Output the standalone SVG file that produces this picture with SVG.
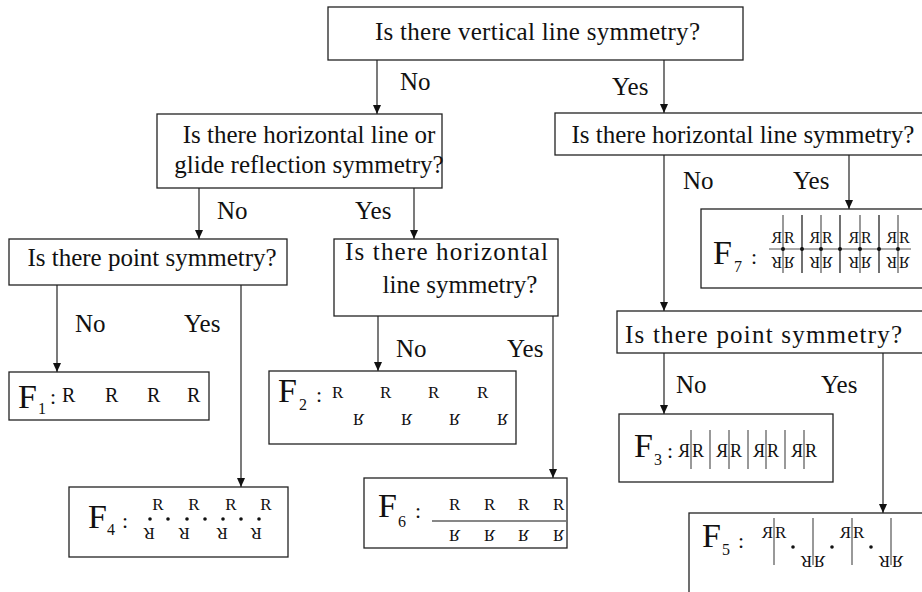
<svg xmlns="http://www.w3.org/2000/svg" width="922" height="592" viewBox="0 0 922 592">
<style>
.box{fill:#fff;stroke:#222;stroke-width:1.3}
.q{font-family:"Liberation Serif","Times New Roman",serif;font-size:25px;fill:#111}
.lbl{font-family:"Liberation Serif","Times New Roman",serif;font-size:25px;fill:#111}
.F{font-family:"Liberation Serif","Times New Roman",serif;font-size:34px;fill:#111}
.sub{font-family:"Liberation Serif","Times New Roman",serif;font-size:16px;fill:#111}
.col{font-family:"Liberation Serif","Times New Roman",serif;font-size:22px;fill:#111}
.r20{font-family:"Liberation Serif","Times New Roman",serif;font-size:20px;fill:#111}
.r18{font-family:"Liberation Serif","Times New Roman",serif;font-size:18px;fill:#111}
.r17{font-family:"Liberation Serif","Times New Roman",serif;font-size:17px;fill:#111}
.r16{font-family:"Liberation Serif","Times New Roman",serif;font-size:16px;fill:#111}
.c{stroke:#222;stroke-width:1.2;fill:none}
.m{stroke:#555;stroke-width:1.2}
.k{stroke:#111;stroke-width:1.2}
.d{fill:#111}
</style>
<defs>
<marker id="ah" markerUnits="userSpaceOnUse" markerWidth="8" markerHeight="9" refX="4" refY="9" orient="0" viewBox="0 0 8 9">
<path d="M0,0 L8,0 L4,9 z" fill="#111"/>
</marker>
</defs>

<g id="connectors">
<line class="c" x1="377" y1="60" x2="377" y2="114" marker-end="url(#ah)"/>
<line class="c" x1="664" y1="60" x2="664" y2="113" marker-end="url(#ah)"/>
<line class="c" x1="199" y1="188" x2="199" y2="239" marker-end="url(#ah)"/>
<line class="c" x1="414" y1="188" x2="414" y2="239" marker-end="url(#ah)"/>
<line class="c" x1="57" y1="285" x2="57" y2="372" marker-end="url(#ah)"/>
<line class="c" x1="241" y1="285" x2="241" y2="487" marker-end="url(#ah)"/>
<line class="c" x1="378" y1="316" x2="378" y2="371" marker-end="url(#ah)"/>
<line class="c" x1="553" y1="316" x2="553" y2="478" marker-end="url(#ah)"/>
<line class="c" x1="664" y1="155" x2="664" y2="311" marker-end="url(#ah)"/>
<line class="c" x1="849" y1="155" x2="849" y2="209" marker-end="url(#ah)"/>
<line class="c" x1="664" y1="353" x2="664" y2="414" marker-end="url(#ah)"/>
<line class="c" x1="883" y1="353" x2="883" y2="513" marker-end="url(#ah)"/>
<text class="lbl" x="400" y="90">No</text>
<text class="lbl" x="612" y="95">Yes</text>
<text class="lbl" x="217" y="219">No</text>
<text class="lbl" x="355" y="219">Yes</text>
<text class="lbl" x="75" y="332">No</text>
<text class="lbl" x="184" y="332">Yes</text>
<text class="lbl" x="396" y="357">No</text>
<text class="lbl" x="507" y="357">Yes</text>
<text class="lbl" x="683" y="189">No</text>
<text class="lbl" x="793" y="189">Yes</text>
<text class="lbl" x="676" y="393">No</text>
<text class="lbl" x="821" y="393">Yes</text>
</g>

<g id="q1">
<rect class="box" x="328" y="7" width="415" height="53"/>
<text class="q" x="375" y="40" textLength="325" lengthAdjust="spacing">Is there vertical line symmetry?</text>
</g>
<g id="q2">
<rect class="box" x="157" y="114" width="285" height="74"/>
<text class="q" x="309" y="143" text-anchor="middle">Is there horizontal line or</text>
<text class="q" x="309" y="173" text-anchor="middle">glide reflection symmetry?</text>
</g>
<g id="q3">
<rect class="box" x="555" y="113" width="372" height="42"/>
<text class="q" x="743" y="143" text-anchor="middle">Is there horizontal line symmetry?</text>
</g>
<g id="q4">
<rect class="box" x="9" y="239" width="278" height="46"/>
<text class="q" x="152" y="266" text-anchor="middle">Is there point symmetry?</text>
</g>
<g id="q5">
<rect class="box" x="334" y="239" width="224" height="77"/>
<text class="q" x="345" y="260" textLength="203" lengthAdjust="spacing">Is there horizontal</text>
<text class="q" x="460" y="293" text-anchor="middle">line symmetry?</text>
</g>
<g id="q6">
<rect class="box" x="617" y="311" width="310" height="42"/>
<text class="q" x="625" y="343" textLength="277" lengthAdjust="spacing">Is there point symmetry?</text>
</g>

<g id="f1">
<rect class="box" x="9" y="372" width="200" height="48"/>
<text class="F" x="18" y="408">F</text><text class="sub" x="38" y="414">1</text>
<text class="col" x="50" y="404">:</text>
<text class="r20" x="62" y="402">R</text>
<text class="r20" x="105" y="402">R</text>
<text class="r20" x="147" y="402">R</text>
<text class="r20" x="187" y="402">R</text>
</g>

<g id="f2">
<rect class="box" x="269" y="371" width="247" height="73"/>
<text class="F" x="278" y="402">F</text><text class="sub" x="299" y="410">2</text>
<text class="col" x="316" y="402">:</text>
<text class="r17" x="332" y="398">R</text>
<text class="r17" x="380" y="398">R</text>
<text class="r17" x="428" y="398">R</text>
<text class="r17" x="477" y="398">R</text>
<g transform="translate(0,812) scale(1,-1)">
<text class="r17" x="353" y="398">R</text>
<text class="r17" x="401" y="398">R</text>
<text class="r17" x="449" y="398">R</text>
<text class="r17" x="497" y="398">R</text>
</g>
</g>

<g id="f3">
<rect class="box" x="619" y="414" width="214" height="68"/>
<text class="F" x="634" y="457">F</text><text class="sub" x="654" y="465">3</text>
<text class="col" x="667" y="458">:</text>
<line class="m" x1="691" y1="430" x2="691" y2="469"/>
<line class="m" x1="710" y1="430" x2="710" y2="469"/>
<line class="m" x1="729" y1="430" x2="729" y2="469"/>
<line class="m" x1="748" y1="430" x2="748" y2="469"/>
<line class="m" x1="766" y1="430" x2="766" y2="469"/>
<line class="m" x1="785" y1="430" x2="785" y2="469"/>
<line class="m" x1="804" y1="430" x2="804" y2="469"/>
<text class="r18" x="692" y="457">R</text>
<text class="r18" x="-690" y="457" transform="scale(-1,1)">R</text>
<text class="r18" x="730" y="457">R</text>
<text class="r18" x="-728" y="457" transform="scale(-1,1)">R</text>
<text class="r18" x="767" y="457">R</text>
<text class="r18" x="-765" y="457" transform="scale(-1,1)">R</text>
<text class="r18" x="805" y="457">R</text>
<text class="r18" x="-803" y="457" transform="scale(-1,1)">R</text>
</g>

<g id="f4">
<rect class="box" x="69" y="487" width="219" height="70"/>
<text class="F" x="88" y="528">F</text><text class="sub" x="107" y="535">4</text>
<text class="col" x="122" y="528">:</text>
<text class="r17" x="158" y="510" text-anchor="middle">R</text>
<text class="r17" x="194" y="510" text-anchor="middle">R</text>
<text class="r17" x="231" y="510" text-anchor="middle">R</text>
<text class="r17" x="266" y="510" text-anchor="middle">R</text>
<text class="r17" x="158" y="510" text-anchor="middle" transform="rotate(180 153.5 519)">R</text>
<text class="r17" x="194" y="510" text-anchor="middle" transform="rotate(180 189 519)">R</text>
<text class="r17" x="231" y="510" text-anchor="middle" transform="rotate(180 226.5 519)">R</text>
<text class="r17" x="266" y="510" text-anchor="middle" transform="rotate(180 261 519)">R</text>
<circle class="d" cx="150" cy="519" r="1.8"/>
<circle class="d" cx="168" cy="519" r="1.8"/>
<circle class="d" cx="187" cy="519" r="1.8"/>
<circle class="d" cx="205" cy="519" r="1.8"/>
<circle class="d" cx="223" cy="519" r="1.8"/>
<circle class="d" cx="241" cy="519" r="1.8"/>
<circle class="d" cx="259" cy="519" r="1.8"/>
</g>

<g id="f6">
<rect class="box" x="364" y="478" width="203" height="70"/>
<text class="F" x="378" y="517">F</text><text class="sub" x="398" y="527">6</text>
<text class="col" x="415" y="518">:</text>
<line class="k" x1="432" y1="521" x2="566" y2="521"/>
<text class="r17" x="449" y="510">R</text>
<text class="r17" x="484" y="510">R</text>
<text class="r17" x="518" y="510">R</text>
<text class="r17" x="553" y="510">R</text>
<g transform="translate(0,1040) scale(1,-1)">
<text class="r17" x="449" y="510">R</text>
<text class="r17" x="484" y="510">R</text>
<text class="r17" x="518" y="510">R</text>
<text class="r17" x="553" y="510">R</text>
</g>
</g>

<g id="f7">
<rect class="box" x="701" y="209" width="226" height="79"/>
<text class="F" x="713" y="264">F</text><text class="sub" x="734" y="272">7</text>
<text class="col" x="751" y="264">:</text>
<line class="m" x1="769" y1="249" x2="911" y2="249"/>
<line class="m" x1="783" y1="215" x2="783" y2="273"/>
<line class="k" x1="802" y1="215" x2="802" y2="273"/>
<line class="m" x1="821" y1="215" x2="821" y2="273"/>
<line class="k" x1="840" y1="215" x2="840" y2="273"/>
<line class="m" x1="860" y1="215" x2="860" y2="273"/>
<line class="k" x1="879" y1="215" x2="879" y2="273"/>
<line class="m" x1="898" y1="215" x2="898" y2="273"/>
<g id="f7top">
<text class="r16" x="784" y="243">R</text>
<text class="r16" x="-782" y="243" transform="scale(-1,1)">R</text>
<text class="r16" x="822" y="243">R</text>
<text class="r16" x="-820" y="243" transform="scale(-1,1)">R</text>
<text class="r16" x="861" y="243">R</text>
<text class="r16" x="-859" y="243" transform="scale(-1,1)">R</text>
<text class="r16" x="899" y="243">R</text>
<text class="r16" x="-897" y="243" transform="scale(-1,1)">R</text>
</g>
<g transform="translate(0,500) scale(1,-1)">
<text class="r16" x="784" y="243">R</text>
<text class="r16" x="-782" y="243" transform="scale(-1,1)">R</text>
<text class="r16" x="822" y="243">R</text>
<text class="r16" x="-820" y="243" transform="scale(-1,1)">R</text>
<text class="r16" x="861" y="243">R</text>
<text class="r16" x="-859" y="243" transform="scale(-1,1)">R</text>
<text class="r16" x="899" y="243">R</text>
<text class="r16" x="-897" y="243" transform="scale(-1,1)">R</text>
</g>
<circle class="d" cx="783" cy="249" r="2"/>
<circle class="d" cx="802" cy="249" r="2"/>
<circle class="d" cx="821" cy="249" r="2"/>
<circle class="d" cx="840" cy="249" r="2"/>
<circle class="d" cx="860" cy="249" r="2"/>
<circle class="d" cx="879" cy="249" r="2"/>
<circle class="d" cx="898" cy="249" r="2"/>
</g>

<g id="f5">
<rect class="box" x="689" y="513" width="238" height="90"/>
<text class="F" x="702" y="547">F</text><text class="sub" x="722" y="555">5</text>
<text class="col" x="738" y="548">:</text>
<line class="m" x1="774" y1="518" x2="774" y2="565"/>
<line class="m" x1="813" y1="518" x2="813" y2="565"/>
<line class="m" x1="852" y1="518" x2="852" y2="565"/>
<line class="m" x1="891" y1="518" x2="891" y2="565"/>
<text class="r17" x="775" y="538">R</text>
<text class="r17" x="-773" y="538" transform="scale(-1,1)">R</text>
<text class="r17" x="853" y="538">R</text>
<text class="r17" x="-851" y="538" transform="scale(-1,1)">R</text>
<g transform="rotate(180 793.5 547)">
<text class="r17" x="775" y="538">R</text>
<text class="r17" x="-773" y="538" transform="scale(-1,1)">R</text>
</g>
<g transform="rotate(180 871.5 547)">
<text class="r17" x="853" y="538">R</text>
<text class="r17" x="-851" y="538" transform="scale(-1,1)">R</text>
</g>
<circle class="d" cx="793" cy="547" r="1.8"/>
<circle class="d" cx="832" cy="547" r="1.8"/>
<circle class="d" cx="871" cy="547" r="1.8"/>
</g>
</svg>
